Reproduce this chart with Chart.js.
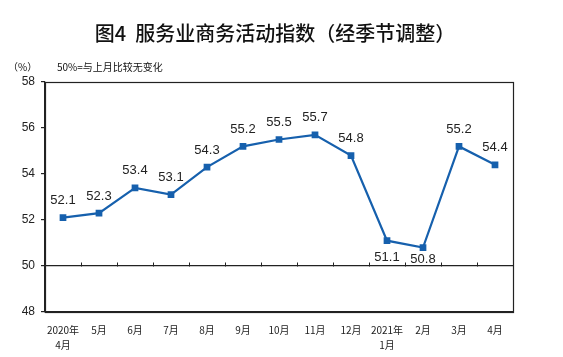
<!DOCTYPE html>
<html><head><meta charset="utf-8">
<script src="https://cdn.jsdelivr.net/npm/chart.js@4/dist/chart.umd.min.js"></script>
<style>html,body{margin:0;padding:0;background:#fff}#wrap{width:563px;height:357px}</style>
</head><body><div id="wrap"><canvas id="c" width="563" height="357"></canvas></div>
<script>
const categories = [["2020年","4月"],"5月","6月","7月","8月","9月","10月","11月","12月",["2021年","1月"],"2月","3月","4月"];
const values = [52.1,52.3,53.4,53.1,54.3,55.2,55.5,55.7,54.8,51.1,50.8,55.2,54.4];
const yTicks = [48,50,52,54,56,58];
const titleText = "图4  服务业商务活动指数（经季节调整）";
const unitText = "（%）";
const noteText = "50%=与上月比较无变化";

const labelPos = ['a','a','a','a','a','a','a','a','a','b','b','a','a'];

const decor = {
  id:'decor',
  afterDraw(chart){
    const {ctx, chartArea:a, scales:{x,y}} = chart;
    ctx.save();
    ctx.strokeStyle='#222'; ctx.lineWidth=1.2;
    ctx.strokeRect(a.left+0.5,a.top+0.5,a.right-a.left,a.bottom-a.top);
    const y50 = Math.round(y.getPixelForValue(50))+0.5;
    ctx.lineWidth=1;
    for(let i=1;i<categories.length;i++){
      const px = Math.round((x.getPixelForValue(i-1)+x.getPixelForValue(i))/2)+0.5;
      ctx.beginPath(); ctx.moveTo(px,y50); ctx.lineTo(px,y50-4); ctx.stroke();
    }
    ctx.fillStyle='#111';
    ctx.font='500 20px "Noto Sans CJK SC"';
    ctx.textAlign='center'; ctx.textBaseline='middle';
    ctx.fillText(titleText, 275, 33);
    ctx.font='10px "Noto Sans CJK SC"';
    ctx.textAlign='left';
    ctx.fillText(unitText, 8, 67);
    ctx.fillText(noteText, 57, 67);
    ctx.font='13px "Liberation Sans"';
    ctx.fillStyle='#222';
    ctx.textAlign='center';
    const meta = chart.getDatasetMeta(0);
    meta.data.forEach((p,i)=>{
      const v = values[i].toFixed(1);
      let ty = labelPos[i]==='a' ? p.y-17 : Math.max(p.y+12, y.getPixelForValue(50)-9);
      ctx.fillText(v, p.x, ty);
    });
    ctx.restore();
  }
};

new Chart(document.getElementById('c'), {
  type:'line',
  data:{labels:categories, datasets:[{data:values, borderColor:'#1660ad', backgroundColor:'#1660ad', borderWidth:2.2, pointStyle:'rect', pointRadius:3.2, pointHoverRadius:3.2, tension:0, fill:false}]},
  options:{
    responsive:false, animation:false, devicePixelRatio:1,
    layout:{padding:{left:0,top:82,right:50,bottom:0}},
    plugins:{legend:{display:false}, tooltip:{enabled:false}, title:{display:false}},
    scales:{
      x:{offset:true,
        grid:{display:false, offset:true},
        border:{display:true,color:'#222',width:1.2},
        ticks:{color:'#222', font:{family:'"Noto Sans CJK SC"', size:10, lineHeight:1.45}, maxRotation:0, autoSkip:false, padding:3},
        afterFit(s){s.height=45;}
      },
      y:{min:48,max:58,
        afterBuildTicks(s){s.ticks=yTicks.map(v=>({value:v}));},
        grid:{drawOnChartArea:true, color:(c)=>c.tick && c.tick.value===50?'#222':'rgba(0,0,0,0)', tickColor:'#222', tickLength:4, lineWidth:1.2},
        border:{display:true,color:'#222',width:1.2},
        ticks:{color:'#222', font:{family:'"Liberation Sans"', size:12}, padding:6},
        afterFit(s){s.width=45;}
      }
    }
  },
  plugins:[decor]
});
</script></body></html>
